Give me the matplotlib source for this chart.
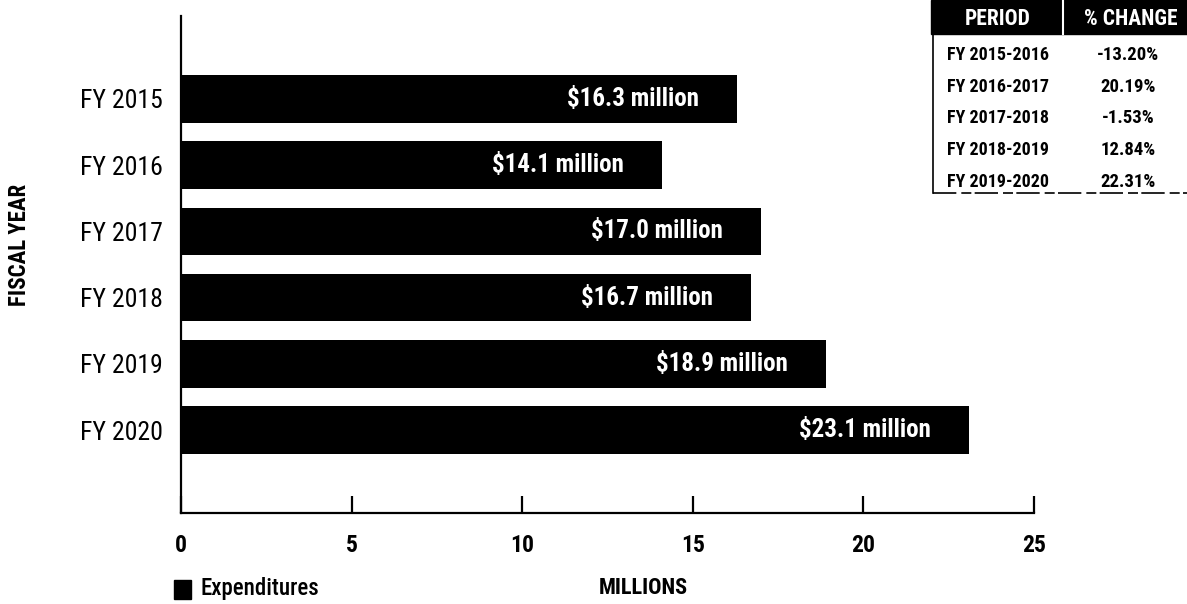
import matplotlib
matplotlib.use("Agg")
import matplotlib.pyplot as plt
from matplotlib.patches import Rectangle
from matplotlib.lines import Line2D

plt.rcParams['font.family'] = ['Roboto Condensed', 'DejaVu Sans']

# Expenditures by fiscal year (millions)
years = ['FY 2015', 'FY 2016', 'FY 2017', 'FY 2018', 'FY 2019', 'FY 2020']
expenditures = [16.3, 14.1, 17.0, 16.7, 18.9, 23.1]
bar_labels = ['$16.3 million', '$14.1 million', '$17.0 million',
              '$16.7 million', '$18.9 million', '$23.1 million']

# Year-over-year change table
periods = ['FY 2015-2016', 'FY 2016-2017', 'FY 2017-2018',
           'FY 2018-2019', 'FY 2019-2020']
pct_change = ['-13.20%', '20.19%', '-1.53%', '12.84%', '22.31%']

x_ticks = [0, 5, 10, 15, 20, 25]

W, H = 1187, 604


def fx(px):
    return px / W


def fy(py):
    return 1 - py / H


fig = plt.figure(figsize=(W / 100, H / 100), dpi=100)
ax = fig.add_axes([fx(181), fy(513), (1034 - 181) / W, (513 - 16) / H])

pos = list(range(len(years)))
ax.barh(pos, expenditures, height=0.72, color='black')
for p, v, lab in zip(pos, expenditures, bar_labels):
    ax.text(v - 1.12, p, lab, color='white', ha='right', va='center',
            fontsize=18, fontweight='bold')

ax.set_xlim(0, 25)
ax.set_ylim(len(years) - 1 + 1.25, -1.25)
ax.set_yticks(pos)
ax.set_yticklabels(years, fontsize=18.5, fontweight='normal')
ax.set_xticks(x_ticks)
ax.set_xticklabels([str(t) for t in x_ticks], fontsize=17, fontweight='bold')
ax.tick_params(axis='y', length=0, pad=13)
ax.tick_params(axis='x', direction='in', length=12, width=1.6, pad=15)
for s in ['top', 'right']:
    ax.spines[s].set_visible(False)
ax.spines['left'].set_linewidth(1.6)
ax.spines['bottom'].set_linewidth(1.6)

fig.text(fx(20), fy(245), 'FISCAL YEAR', rotation=90, ha='center',
         va='center', fontsize=16.5, fontweight='bold')
fig.text(fx(643), fy(588), 'MILLIONS', ha='center', va='center',
         fontsize=16, fontweight='bold')

# Legend entry
fig.patches.append(Rectangle((fx(174), fy(599)), 17 / W, 19 / H,
                             transform=fig.transFigure, color='black'))
fig.text(fx(200), fy(589), 'Expenditures', ha='left', va='center',
         fontsize=16.5, fontweight='medium')

# Change table in the upper right
tx0, tx1, tdiv = 931, 1187, 1063
hdr_top, hdr_bot = 0, 34
row_y = [55, 87, 118, 150, 182]
tbl_bot = 193
fig.patches.append(Rectangle((fx(tx0), fy(hdr_bot)), (tx1 - tx0) / W,
                             (hdr_bot - hdr_top) / H,
                             transform=fig.transFigure, color='black'))
fig.lines.append(Line2D([fx(tdiv), fx(tdiv)], [fy(hdr_bot), fy(hdr_top)],
                        transform=fig.transFigure, color='white', lw=1.5))
fig.text(fx(998), fy(19), 'PERIOD', color='white',
         ha='center', va='center', fontsize=15.5, fontweight='bold')
fig.text(fx(1131), fy(19), '% CHANGE', color='white',
         ha='center', va='center', fontsize=15.5, fontweight='bold')
for yc, per, ch in zip(row_y, periods, pct_change):
    fig.text(fx(947), fy(yc), per, ha='left', va='center',
             fontsize=13, fontweight='bold')
    fig.text(fx(1128), fy(yc), ch, ha='center', va='center',
             fontsize=13.5, fontweight='bold')
fig.lines.append(Line2D([fx(933), fx(933)], [fy(tbl_bot), fy(hdr_bot)],
                        transform=fig.transFigure, color='black', lw=1.2))
fig.lines.append(Line2D([fx(933), fx(tx1)], [fy(tbl_bot), fy(tbl_bot)],
                        transform=fig.transFigure, color='black', lw=1.2,
                        ls=(0, (14, 3, 6, 2))))

fig.savefig('out.png', dpi=100)
